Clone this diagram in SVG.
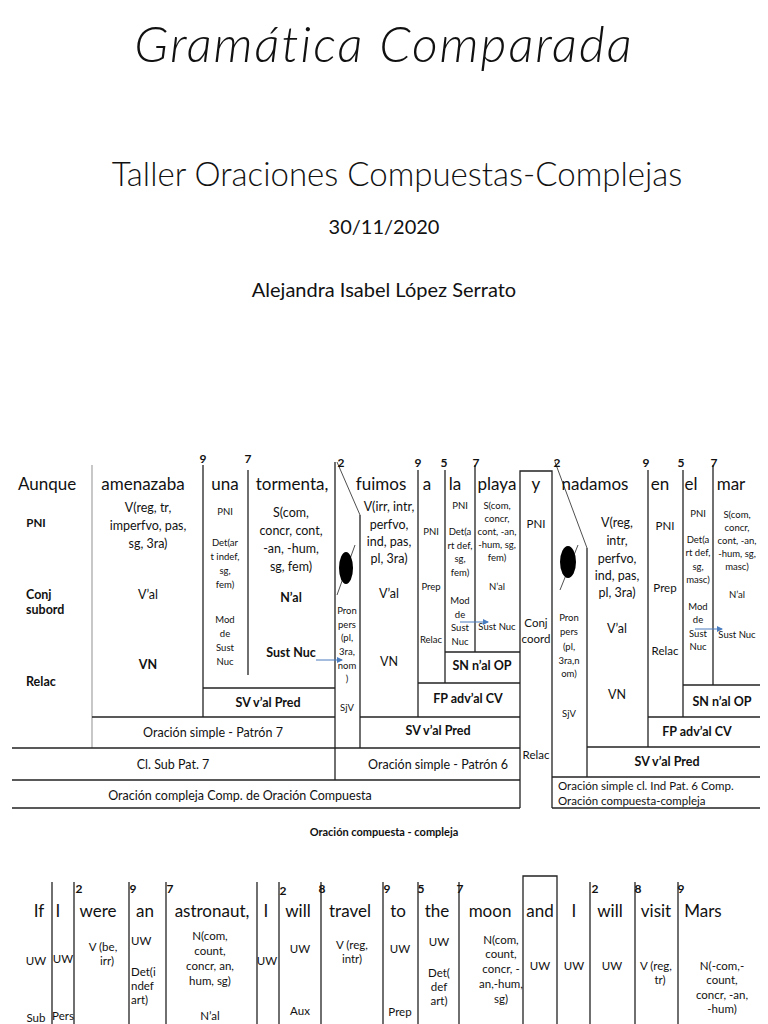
<svg xmlns="http://www.w3.org/2000/svg" width="768" height="1024" viewBox="0 0 768 1024">
<style>
text{font-family:Lato,"Liberation Sans",sans-serif;fill:#111;text-anchor:middle}
.w{font-size:17px}
.n{font-size:12px;font-weight:bold}
.s{font-size:11.5px}
.x{font-size:9.5px}
.m{font-size:12.5px}
.b{font-size:12.5px;font-weight:bold}
.l{text-anchor:start}
line,path,rect{stroke:#222;stroke-width:1.3;fill:none}
.g{stroke:#aaa}
.ar{stroke:#4a7cc0;stroke-width:1}
</style>
<defs><marker id="a" markerWidth="6" markerHeight="6" refX="5" refY="3" orient="auto"><path d="M0,0L6,3L0,6z" style="fill:#4a7cc0;stroke:none"/></marker></defs>
<rect x="0" y="0" width="768" height="1024" style="fill:#fff;stroke:none"/>
<g id="title">
<text x="384" y="62" style="font-size:50px;font-style:italic;font-weight:300;letter-spacing:2px">Gramática Comparada</text>
<text x="397" y="186" style="font-size:33px;font-weight:300">Taller Oraciones Compuestas-Complejas</text>
<text x="384" y="234" style="font-size:20px">30/11/2020</text>
<text x="384" y="297" style="font-size:20px">Alejandra Isabel López Serrato</text>
</g>
<g id="connectors">
<line x1="92" y1="465" x2="92" y2="585" class="g"/><line x1="92" y1="585" x2="92" y2="748" class="g"/>
<line x1="203" y1="465" x2="203" y2="717"/><line x1="248" y1="470" x2="248" y2="675"/>
<line x1="335" y1="462" x2="335" y2="780"/>
<line x1="203" y1="688" x2="335" y2="688"/><line x1="92" y1="717" x2="335" y2="717"/>
<line x1="12" y1="748" x2="520" y2="748"/><line x1="12" y1="780" x2="520" y2="780"/><line x1="12" y1="808" x2="520" y2="808"/>
<line x1="337" y1="462" x2="360" y2="515" style="stroke-width:0.8"/><line x1="360" y1="515" x2="360" y2="748"/>
<line x1="337" y1="595" x2="355" y2="545" style="stroke-width:0.8"/>
<line x1="418" y1="470" x2="418" y2="717"/><line x1="445" y1="470" x2="445" y2="683"/><line x1="475" y1="465" x2="475" y2="652"/>
<line x1="445" y1="652" x2="520" y2="652"/><line x1="418" y1="683" x2="520" y2="683"/><line x1="360" y1="717" x2="520" y2="717"/>
<path d="M520,808V471H552V808"/>
<line x1="555" y1="462" x2="587" y2="548" style="stroke-width:0.8"/><line x1="587" y1="548" x2="587" y2="777"/>
<line x1="560" y1="590" x2="578" y2="545" style="stroke-width:0.8"/>
<line x1="648" y1="470" x2="648" y2="747"/><line x1="683" y1="470" x2="683" y2="717"/><line x1="713" y1="465" x2="713" y2="685"/>
<line x1="683" y1="685" x2="760" y2="685"/><line x1="648" y1="717" x2="760" y2="717"/><line x1="587" y1="747" x2="760" y2="747"/>
<line x1="552" y1="777" x2="760" y2="777"/><line x1="552" y1="808" x2="760" y2="808"/>
<line x1="316" y1="660" x2="342" y2="660" class="ar" marker-end="url(#a)"/>
<line x1="460" y1="622" x2="488" y2="622" class="ar" marker-end="url(#a)"/>
<line x1="695" y1="629" x2="722" y2="629" class="ar" marker-end="url(#a)"/>
<line x1="52" y1="882" x2="52" y2="1024"/><line x1="74" y1="882" x2="74" y2="1024"/><line x1="129" y1="882" x2="129" y2="1024"/>
<line x1="166" y1="882" x2="166" y2="1024"/><line x1="257" y1="882" x2="257" y2="1024"/><line x1="279" y1="882" x2="279" y2="1024"/>
<line x1="321" y1="882" x2="321" y2="1024"/><line x1="383" y1="882" x2="383" y2="1024"/><line x1="418" y1="882" x2="418" y2="1024"/>
<line x1="459" y1="882" x2="459" y2="1024"/><path d="M523,1024V876H557V1024"/><line x1="590" y1="882" x2="590" y2="1024"/>
<line x1="635" y1="882" x2="635" y2="1024"/><line x1="678" y1="882" x2="678" y2="1024"/>
</g>
<g id="pron1"><ellipse cx="346" cy="568" rx="7" ry="16" style="fill:#000"/></g>
<g id="pron2"><ellipse cx="568" cy="562" rx="8" ry="16" style="fill:#000"/></g>
<g id="words1">
<text class="w" x="47" y="490">Aunque</text><text class="w" x="143" y="490">amenazaba</text><text class="w" x="225" y="490">una</text>
<text class="w" x="292" y="490">tormenta,</text><text class="w" x="381" y="490">fuimos</text><text class="w" x="427" y="490">a</text>
<text class="w" x="455" y="490">la</text><text class="w" x="497" y="490">playa</text><text class="w" x="536" y="490">y</text>
<text class="w" x="595" y="490">nadamos</text><text class="w" x="660" y="490">en</text><text class="w" x="691" y="490">el</text><text class="w" x="731" y="490">mar</text>
<text class="n" x="203" y="463">9</text><text class="n" x="248" y="463">7</text><text class="n" x="341" y="467">2</text><text class="n" x="418" y="467">9</text>
<text class="n" x="444" y="467">5</text><text class="n" x="476" y="467">7</text><text class="n" x="557" y="467">2</text><text class="n" x="646" y="467">9</text>
<text class="n" x="681" y="467">5</text><text class="n" x="714" y="467">7</text>
</g>
<g id="col-aunque"><text class="s" x="36" y="527" style="font-weight:bold">PNI</text><text class="b" x="26" y="599" style="text-anchor:start">Conj</text><text class="b" x="26" y="614" style="text-anchor:start">subord</text><text class="b" x="26" y="686" style="text-anchor:start">Relac</text></g>
<g id="col-amenazaba"><text class="m" x="148" y="512">V(reg, tr,</text><text class="m" x="148" y="530">imperfvo, pas,</text><text class="m" x="148" y="548">sg, 3ra)</text><text class="m" x="148" y="599">V’al</text><text class="b" x="148" y="669">VN</text></g>
<g id="col-una"><text class="x" x="225" y="515">PNI</text><text class="x" x="225" y="546">Det(ar</text><text class="x" x="225" y="560">t indef,</text><text class="x" x="225" y="574">sg,</text><text class="x" x="225" y="588">fem)</text><text class="x" x="225" y="623">Mod</text><text class="x" x="225" y="637">de</text><text class="x" x="225" y="651">Sust</text><text class="x" x="225" y="665">Nuc</text></g>
<g id="col-tormenta"><text class="m" x="291" y="517">S(com,</text><text class="m" x="291" y="535">concr, cont,</text><text class="m" x="291" y="553">-an, -hum,</text><text class="m" x="291" y="571">sg, fem)</text><text class="b" x="291" y="602">N’al</text><text class="b" x="291" y="657">Sust Nuc</text></g>
<g id="lbl1"><text class="b" x="268" y="707">SV   v’al  Pred</text><text class="m" x="213" y="737">Oración simple - Patrón 7</text><text class="m" x="173" y="769">Cl. Sub Pat. 7</text><text class="m" x="240" y="800">Oración compleja Comp. de Oración Compuesta</text></g>
<g id="col-pron1"><text class="x" x="347" y="614">Pron</text><text class="x" x="347" y="628">pers</text><text class="x" x="347" y="641">(pl,</text><text class="x" x="347" y="655">3ra,</text><text class="x" x="347" y="669">nom</text><text class="x" x="347" y="682">)</text><text class="x" x="347" y="711">SjV</text></g>
<g id="col-fuimos"><text class="m" x="389" y="511">V(irr, intr,</text><text class="m" x="389" y="529">perfvo,</text><text class="m" x="389" y="546">ind, pas,</text><text class="m" x="389" y="563">pl, 3ra)</text><text class="m" x="389" y="598">V’al</text><text class="m" x="389" y="666">VN</text></g>
<g id="col-a"><text class="x" x="431" y="535">PNI</text><text class="x" x="431" y="590">Prep</text><text class="x" x="431" y="643">Relac</text></g>
<g id="col-la"><text class="x" x="460" y="509">PNI</text><text class="x" x="460" y="535">Det(a</text><text class="x" x="460" y="549">rt def,</text><text class="x" x="460" y="562">sg,</text><text class="x" x="460" y="576">fem)</text><text class="x" x="460" y="604">Mod</text><text class="x" x="460" y="618">de</text><text class="x" x="460" y="631">Sust</text><text class="x" x="460" y="645">Nuc</text></g>
<g id="col-playa"><text class="x" x="497" y="509">S(com,</text><text class="x" x="497" y="522">concr,</text><text class="x" x="497" y="535">cont, -an,</text><text class="x" x="497" y="548">-hum, sg,</text><text class="x" x="497" y="561">fem)</text><text class="x" x="497" y="590">N’al</text><text class="x" x="497" y="630">Sust Nuc</text></g>
<g id="lbl2"><text class="b" x="482" y="670">SN n’al OP</text><text class="b" x="468" y="703">FP  adv’al  CV</text><text class="b" x="438" y="735">SV   v’al  Pred</text><text class="m" x="438" y="769">Oración simple - Patrón 6</text></g>
<g id="col-y"><text class="s" x="536" y="528">PNI</text><text class="s" x="536" y="627">Conj</text><text class="s" x="536" y="643">coord</text><text class="s" x="536" y="759">Relac</text></g>
<g id="col-pron2"><text class="x" x="569" y="621">Pron</text><text class="x" x="569" y="635">pers</text><text class="x" x="569" y="650">(pl,</text><text class="x" x="569" y="664">3ra,n</text><text class="x" x="569" y="677">om)</text><text class="x" x="569" y="717">SjV</text></g>
<g id="col-nadamos"><text class="m" x="617" y="527">V(reg,</text><text class="m" x="617" y="545">intr,</text><text class="m" x="617" y="563">perfvo,</text><text class="m" x="617" y="580">ind, pas,</text><text class="m" x="617" y="597">pl, 3ra)</text><text class="m" x="617" y="633">V’al</text><text class="m" x="617" y="699">VN</text></g>
<g id="col-en"><text class="s" x="665" y="530">PNI</text><text class="s" x="665" y="592">Prep</text><text class="s" x="665" y="655">Relac</text></g>
<g id="col-el"><text class="x" x="698" y="517">PNI</text><text class="x" x="698" y="543">Det(a</text><text class="x" x="698" y="556">rt def,</text><text class="x" x="698" y="570">sg,</text><text class="x" x="698" y="583">masc)</text><text class="x" x="698" y="610">Mod</text><text class="x" x="698" y="623">de</text><text class="x" x="698" y="637">Sust</text><text class="x" x="698" y="650">Nuc</text></g>
<g id="col-mar"><text class="x" x="737" y="518">S(com,</text><text class="x" x="737" y="531">concr,</text><text class="x" x="737" y="544">cont, -an,</text><text class="x" x="737" y="557">-hum, sg,</text><text class="x" x="737" y="570">masc)</text><text class="x" x="737" y="598">N’al</text><text class="x" x="737" y="638">Sust Nuc</text></g>
<g id="lbl3"><text class="b" x="722" y="706">SN n’al OP</text><text class="b" x="697" y="736">FP adv’al  CV</text><text class="b" x="667" y="766">SV   v’al  Pred</text>
<text class="s" x="558" y="790" style="text-anchor:start">Oración simple cl. Ind Pat. 6 Comp.</text><text class="s" x="558" y="805" style="text-anchor:start">Oración compuesta-compleja</text></g>
<g id="caption"><text x="384" y="836" style="font-size:11px;font-weight:bold">Oración compuesta - compleja</text></g>
<g id="words2">
<text class="w" x="39" y="917">If</text><text class="w" x="58" y="917">I</text><text class="w" x="98" y="917">were</text><text class="w" x="145" y="917">an</text>
<text class="w" x="212" y="917">astronaut,</text><text class="w" x="266" y="917">I</text><text class="w" x="298" y="917">will</text><text class="w" x="350" y="917">travel</text>
<text class="w" x="398" y="917">to</text><text class="w" x="437" y="917">the</text><text class="w" x="490" y="917">moon</text><text class="w" x="540" y="917">and</text>
<text class="w" x="574" y="917">I</text><text class="w" x="610" y="917">will</text><text class="w" x="656" y="917">visit</text><text class="w" x="703" y="917">Mars</text>
<text class="n" x="79" y="893">2</text><text class="n" x="133" y="893">9</text><text class="n" x="170" y="893">7</text><text class="n" x="283" y="895">2</text>
<text class="n" x="322" y="893">8</text><text class="n" x="387" y="893">9</text><text class="n" x="421" y="893">5</text><text class="n" x="460" y="893">7</text>
<text class="n" x="595" y="893">2</text><text class="n" x="638" y="893">8</text><text class="n" x="681" y="893">9</text>
</g>
<g id="rows2">
<text class="s" x="36" y="965">UW</text><text class="s" x="36" y="1022">Sub</text><text class="s" x="63" y="963">UW</text><text class="s" x="63" y="1020">Pers</text>
<text class="s" x="103" y="951">V (be,</text><text class="s" x="107" y="965">irr)</text>
<text class="s" x="131" y="945" style="text-anchor:start">UW</text><text class="s" x="131" y="976" style="text-anchor:start">Det(i</text><text class="s" x="131" y="990" style="text-anchor:start">ndef</text><text class="s" x="131" y="1004" style="text-anchor:start">art)</text>
<text class="s" x="210" y="940">N(com,</text><text class="s" x="210" y="955">count,</text><text class="s" x="210" y="970">concr, an,</text><text class="s" x="210" y="985">hum, sg)</text><text class="s" x="210" y="1020">N’al</text>
<text class="s" x="267" y="965">UW</text><text class="s" x="300" y="953">UW</text><text class="s" x="300" y="1015">Aux</text>
<text class="s" x="352" y="949">V (reg,</text><text class="s" x="352" y="963">intr)</text>
<text class="s" x="400" y="953">UW</text><text class="s" x="400" y="1016">Prep</text>
<text class="s" x="439" y="946">UW</text><text class="s" x="439" y="977">Det(</text><text class="s" x="439" y="991">def</text><text class="s" x="439" y="1005">art)</text>
<text class="s" x="501" y="944">N(com,</text><text class="s" x="501" y="958">count,</text><text class="s" x="501" y="973">concr, -</text><text class="s" x="501" y="988">an,-hum,</text><text class="s" x="501" y="1003">sg)</text>
<text class="s" x="540" y="970">UW</text><text class="s" x="574" y="970">UW</text><text class="s" x="612" y="970">UW</text>
<text class="s" x="656" y="970">V (reg,</text><text class="s" x="660" y="984">tr)</text>
<text class="s" x="722" y="970">N(-com,-</text><text class="s" x="722" y="984">count,</text><text class="s" x="722" y="999">concr, -an,</text><text class="s" x="722" y="1013">-hum)</text>
</g>
</svg>
